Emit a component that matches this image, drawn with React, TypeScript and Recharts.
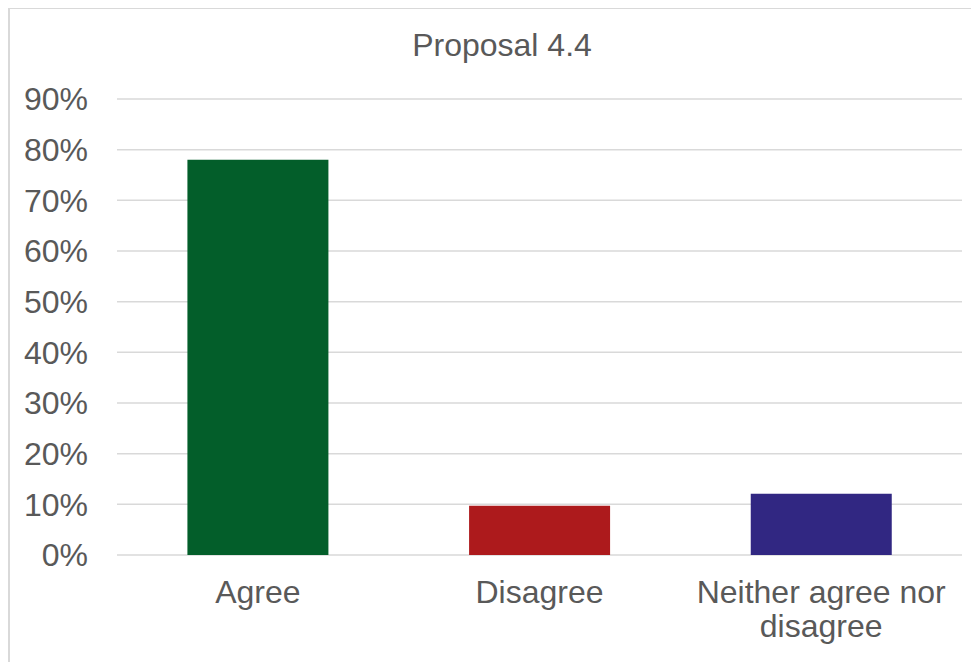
import React from "react";
import { BarChart, Bar, XAxis, YAxis, CartesianGrid, Cell } from "recharts";

const categories = ["Agree", "Disagree", "Neither agree nor disagree"];
const values = [78, 9.7, 12.1];
const colors = ["#035E2A", "#AD1A1C", "#312782"];
const yTicks = [0, 10, 20, 30, 40, 50, 60, 70, 80, 90];
const title = "Proposal 4.4";

const data = categories.map((c, i) => ({ name: c, value: values[i] }));

const FONT = "'Liberation Sans', Arial, sans-serif";
const TEXT_COLOR = "#595959";
const FS = 32;
const WRAP_WIDTH = 275;
const LINE_HEIGHT = 34;

let ctx: CanvasRenderingContext2D | null = null;
function measure(s: string): number {
  if (typeof document === "undefined") return s.length * FS * 0.5;
  if (!ctx) {
    const c = document.createElement("canvas");
    ctx = c.getContext("2d");
  }
  if (!ctx) return s.length * FS * 0.5;
  ctx.font = `${FS}px ${FONT}`;
  return ctx.measureText(s).width;
}

function wrap(text: string, width: number): string[] {
  const words = text.split(" ");
  const lines: string[] = [];
  let cur = "";
  for (const w of words) {
    const test = cur ? cur + " " + w : w;
    if (cur && measure(test) > width) {
      lines.push(cur);
      cur = w;
    } else {
      cur = test;
    }
  }
  if (cur) lines.push(cur);
  return lines;
}

const XTick = (props: any) => {
  const { x, y, payload } = props;
  const lines = wrap(String(payload.value), WRAP_WIDTH);
  return (
    <text
      x={x}
      y={y}
      textAnchor="middle"
      fill={TEXT_COLOR}
      fontSize={FS}
      fontFamily={FONT}
    >
      {lines.map((l, i) => (
        <tspan key={i} x={x} dy={i === 0 ? "0.71em" : LINE_HEIGHT}>
          {l}
        </tspan>
      ))}
    </text>
  );
};

export default function App() {
  return (
    <div style={{ position: "relative", width: 971, height: 654, overflow: "hidden" }}>
      <div
        style={{
          position: "absolute",
          left: 0,
          top: -1,
          width: 1000,
          height: 700,
          borderTop: "2px solid #d9d9d9",
          borderLeft: "2px solid #d9d9d9",
          boxSizing: "border-box",
        }}
      />
      <div
        style={{
          position: "absolute",
          left: 0,
          top: 21,
          width: 988,
          textAlign: "center",
          fontFamily: FONT,
          fontSize: FS,
          lineHeight: "32px",
          color: TEXT_COLOR,
        }}
      >
        {title}
      </div>
      <div style={{ position: "absolute", left: 0, top: 0 }}>
        <BarChart
          width={971}
          height={654}
          data={data}
          margin={{ top: 91, right: 17, bottom: 0, left: 0 }}
          barCategoryGap="25%"
        >
          <CartesianGrid vertical={false} stroke="#d9d9d9" strokeWidth={1.5} />
          <YAxis
            domain={[0, 90]}
            ticks={yTicks}
            width={109}
            axisLine={false}
            tickLine={false}
            tickSize={0}
            tickMargin={29}
            tickFormatter={(v: number) => `${v}%`}
            tick={{ fill: TEXT_COLOR, fontSize: FS, fontFamily: FONT }}
            interval={0}
          />
          <XAxis
            dataKey="name"
            height={107}
            axisLine={false}
            tickLine={false}
            tickSize={0}
            tickMargin={25}
            interval={0}
            tick={<XTick />}
          />
          <Bar dataKey="value" isAnimationActive={false}>
            {data.map((d, i) => (
              <Cell key={d.name} fill={colors[i]} />
            ))}
          </Bar>
        </BarChart>
      </div>
    </div>
  );
}
